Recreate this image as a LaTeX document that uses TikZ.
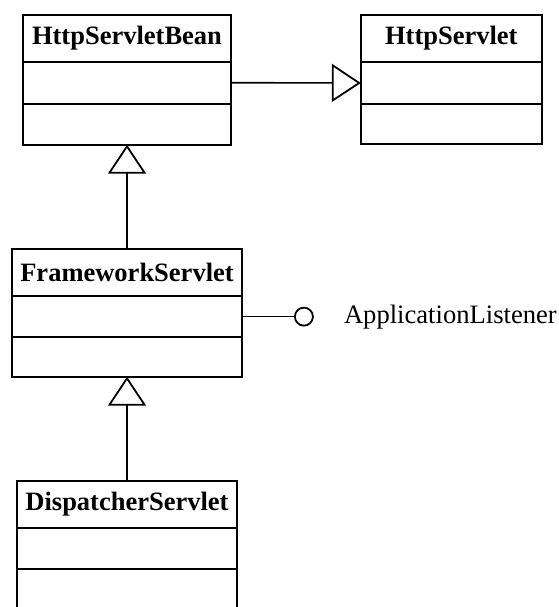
\documentclass[tikz,border=0pt]{standalone}
\usepackage{fontspec}
\setmainfont{Liberation Serif}
\usetikzlibrary{positioning,arrows.meta}
\tikzset{
  classhead/.style={draw,line width=2.2pt,inner sep=0pt,outer sep=0pt,minimum height=47pt,font=\fontsize{26.5pt}{30pt}\selectfont\bfseries},
  classrow/.style={draw,line width=2.2pt,inner sep=0pt,outer sep=0pt,minimum height=#1},
  classrow/.default=42pt,
  inherit/.style={line width=1.6pt,-{Triangle[open,length=29pt,width=38pt,line width=1.8pt]}},
  lollipop/.style={circle,draw,line width=1.8pt,inner sep=0pt,minimum size=18pt}
}
\begin{document}
\begin{tikzpicture}[x=1pt,y=-1pt]
\useasboundingbox (0,0) rectangle (558,607);
\def\xL{127};
\def\xR{451.3};
\node[classhead,minimum width=208pt] (bean) at (\xL,38.2) {HttpServletBean};
\node[classrow,minimum width=208pt,below=0pt of bean] (beanA) {};
\node[classrow=41pt,minimum width=208pt,below=0pt of beanA] (beanB) {};
\node[classhead,minimum width=181pt] (serv) at (\xR,38.5) {HttpServlet};
\node[classrow,minimum width=181pt,below=0pt of serv] (servA) {};
\node[classrow=40pt,minimum width=181pt,below=0pt of servA] (servB) {};
\node[classhead,minimum width=230pt] (fw) at (\xL,272.5) {FrameworkServlet};
\node[classrow=41.3pt,minimum width=230pt,below=0pt of fw] (fwA) {};
\node[classrow=39.4pt,minimum width=230pt,below=0pt of fwA] (fwB) {};
\node[classhead,minimum width=220pt] (disp) at (\xL,504.2) {DispatcherServlet};
\node[classrow=41.3pt,minimum width=220pt,below=0pt of disp] (dispA) {};
\node[classrow=43pt,minimum width=220pt,below=0pt of dispA] (dispB) {};
\node[lollipop,right=52pt of fwA] (listen) {};
\node[right=30pt of listen,inner sep=0pt,font=\fontsize{26.6pt}{30pt}\selectfont] (listenlabel) {ApplicationListener};
\draw[inherit] (beanA.east) -- (servA.west);
\draw[inherit] (fw.north) -- (beanB.south);
\draw[inherit] (disp.north) -- (fwB.south);
\draw[line width=1.6pt] (fwA.east) -- (listen.west);
\end{tikzpicture}
\end{document}
